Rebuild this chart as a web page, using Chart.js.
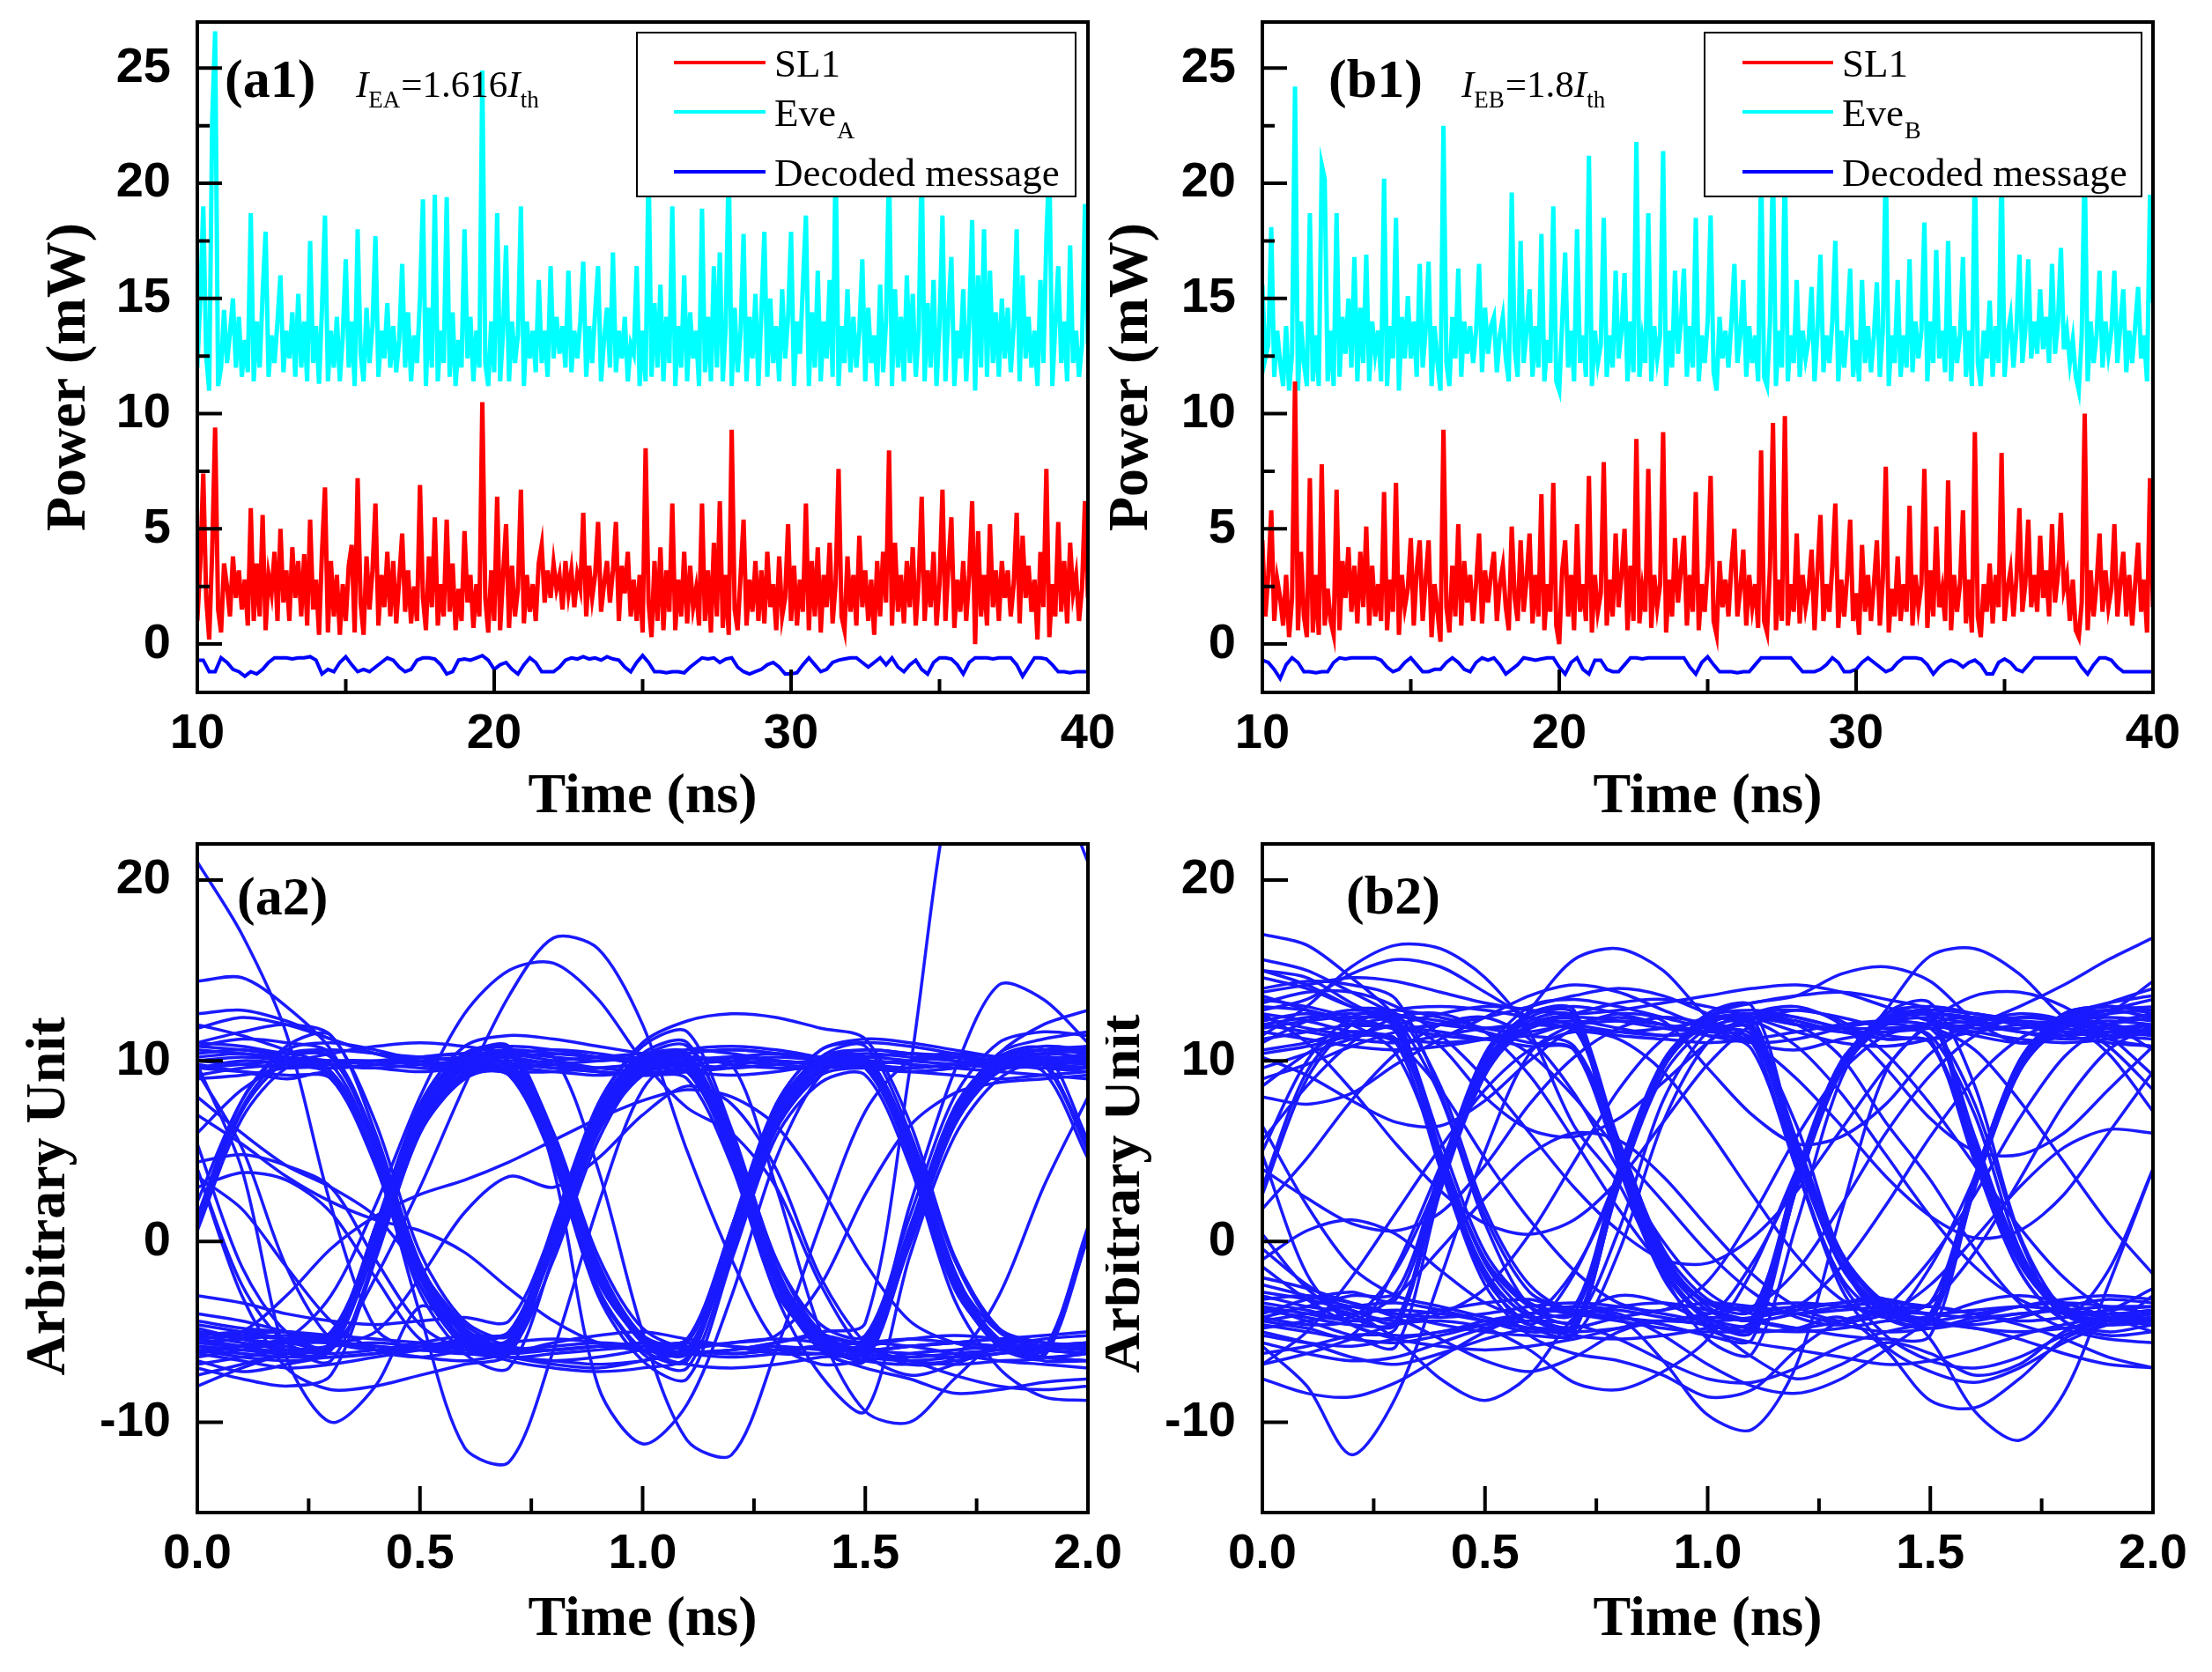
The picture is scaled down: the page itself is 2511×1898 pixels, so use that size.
<!DOCTYPE html>
<html>
<head>
<meta charset="utf-8">
<title>SL1 / Eve / decoded message</title>
<script src="https://cdn.jsdelivr.net/npm/chart.js@4.4.1/dist/chart.umd.min.js"></script>
<style>
  html, body { margin: 0; padding: 0; background: #fff; }
  body { position: relative; width: 2511px; height: 1898px; overflow: hidden; }
  canvas { position: absolute; }
</style>
</head>
<body>
<canvas id="a1" width="1290" height="940" style="left:0;top:0"></canvas>
<canvas id="b1" width="1256" height="940" style="left:1255px;top:0"></canvas>
<canvas id="a2" width="1290" height="958" style="left:0;top:940px"></canvas>
<canvas id="b2" width="1256" height="958" style="left:1255px;top:940px"></canvas>
<script>
// ---- time series, sampled every 0.1 ns from 10 ns (power in mW) ----
var sampleStart = 10, sampleStep = 0.1;
var msgStep = 0.2;

var a1Sl1 = [
  1.0,3.5,7.4,2.0,0.2,4.0,9.4,1.5,0.5,3.5,
  2.5,1.2,3.8,2.0,3.2,1.5,2.8,0.8,5.9,1.0,
  3.5,1.2,5.6,0.6,3.0,2.2,4.0,1.0,5.0,1.8,
  3.2,1.0,4.2,2.0,3.6,1.2,3.9,0.8,5.4,1.5,
  2.8,0.4,4.0,6.8,0.5,3.6,1.2,3.0,0.4,2.6,
  1.0,3.4,4.3,0.5,7.2,1.8,0.4,3.8,1.5,3.2,
  6.1,0.8,3.0,1.6,4.0,1.2,3.6,0.9,2.8,4.8,
  1.4,3.2,0.9,2.5,1.0,6.9,2.0,0.6,3.8,1.6,
  5.5,0.8,2.6,1.2,5.4,1.4,3.5,0.6,2.4,1.0,
  4.9,1.8,3.0,0.7,2.6,1.2,10.5,2.0,0.5,3.2,
  1.0,6.4,0.6,3.0,5.2,0.7,3.4,1.2,2.4,6.7,
  0.9,3.0,1.4,2.6,1.0,3.5,4.3,1.8,3.2,2.0,
  3.5,2.4,3.0,1.5,3.6,2.2,3.2,1.6,3.0,2.4,
  5.7,1.2,3.4,2.0,3.0,5.3,1.4,2.6,3.6,1.8,
  3.2,5.3,1.0,3.4,2.2,4.0,1.2,2.8,1.0,3.0,
  0.5,8.5,1.8,0.3,3.6,1.0,4.2,0.6,3.2,1.4,
  6.1,0.6,2.8,1.2,4.0,0.9,3.4,1.6,2.4,0.8,
  6.1,1.0,3.2,0.5,4.4,1.2,6.2,0.7,3.0,0.4,
  9.3,1.5,0.6,3.0,5.4,0.8,2.8,1.4,3.6,1.0,
  3.2,0.9,4.0,1.6,2.6,0.6,3.8,1.2,2.0,5.2,
  1.0,3.4,0.8,2.8,1.4,6.1,0.6,3.6,1.2,4.2,
  0.5,3.0,1.6,4.4,0.9,2.6,7.6,1.2,0.6,3.8,
  1.4,3.0,0.8,4.7,1.6,3.2,1.0,2.8,0.4,3.6,
  1.2,4.0,1.8,8.4,0.8,4.4,1.4,3.0,0.9,3.6,
  1.6,4.2,0.8,2.8,6.4,1.0,3.2,1.6,4.0,0.8,
  2.6,6.7,1.0,3.4,5.5,0.7,2.8,1.4,3.6,1.0,
  3.0,6.2,0.0,4.9,1.2,3.0,0.8,5.2,1.6,3.2,
  1.0,3.6,2.0,3.2,1.2,2.6,5.7,0.9,4.7,2.0,
  3.4,1.4,2.8,0.2,4.0,1.6,7.6,0.3,2.6,1.2,
  5.3,1.4,3.6,0.9,4.4,2.2,3.0,1.0,2.4,6.2,
  2.0
];

var a1Eve = [
  12.0,15.0,19.0,12.5,11.0,22.7,26.6,11.2,12.0,14.5,
  12.2,13.5,15.0,12.0,14.2,11.6,13.2,11.8,18.7,11.4,
  14.0,12.0,15.2,17.9,11.6,13.4,12.2,14.0,16.0,11.8,
  13.6,12.4,14.4,11.6,15.2,12.0,14.0,11.4,17.5,12.2,
  13.8,11.3,14.6,18.6,11.4,13.6,12.0,14.2,11.4,13.4,
  16.7,12.0,14.0,11.2,18.0,12.6,11.4,14.6,12.2,13.8,
  17.7,11.6,13.6,12.4,14.8,12.0,13.8,11.8,13.2,16.5,
  12.0,14.4,11.4,13.4,12.2,15.0,19.3,11.2,14.6,12.0,
  19.5,11.4,13.6,12.2,19.4,11.6,14.4,11.2,13.2,12.0,
  18.0,12.4,14.2,11.4,13.6,12.0,24.9,12.2,11.2,14.0,
  11.8,18.7,11.4,13.6,17.3,11.4,14.0,12.2,13.4,19.0,
  11.2,14.0,12.4,13.6,11.8,15.8,12.2,13.6,11.6,16.4,
  12.4,14.2,12.6,13.8,12.0,16.2,11.8,13.6,12.4,14.0,
  16.6,11.6,13.8,12.2,14.4,16.4,11.4,13.2,14.6,12.0,
  17.0,11.8,13.6,12.4,14.2,11.4,13.0,12.6,16.4,11.2,
  13.6,11.4,21.0,11.6,14.8,12.0,15.6,11.4,14.2,12.2,
  19.0,11.2,13.8,12.0,16.0,11.4,14.4,12.4,13.6,11.2,
  18.9,11.8,14.2,11.4,16.4,12.0,17.0,11.4,13.8,21.0,
  11.2,14.6,11.8,13.6,17.8,11.4,14.2,12.4,15.2,11.2,
  14.4,17.9,11.6,15.0,12.2,13.8,11.4,15.4,12.4,14.2,
  17.9,11.2,14.0,12.6,15.6,18.6,11.2,14.4,12.0,16.2,
  11.4,14.0,12.4,15.8,11.6,21.0,11.2,13.8,12.2,15.4,
  11.8,14.2,12.0,13.6,16.7,11.4,14.6,12.2,13.4,11.2,
  15.6,11.8,14.0,21.0,11.2,15.4,12.0,14.2,11.4,16.0,
  12.2,15.2,11.6,13.6,21.0,11.4,14.8,12.0,15.8,11.2,
  13.8,18.6,11.4,14.4,16.8,11.2,13.6,12.4,15.4,11.4,
  14.0,18.4,11.0,16.0,12.0,18.0,11.6,16.2,12.2,14.4,
  11.6,15.0,12.4,14.6,11.8,13.8,18.0,11.4,16.0,12.4,
  14.2,12.0,13.6,11.2,15.8,12.2,17.6,21.0,11.2,13.8,
  16.4,12.2,14.0,11.4,17.3,12.2,13.6,11.6,13.0,19.1,
  13.0
];

// decoded message, every 0.2 ns
var a1Msg = [
  -0.7,-0.7,-1.2,-1.2,-0.6,
  -0.8,-1.1,-1.2,-1.4,-1.2,
  -1.3,-1.1,-0.8,-0.6,-0.6,
  -0.6,-0.65,-0.6,-0.6,-0.55,
  -0.7,-1.3,-1.1,-1.2,-0.8,
  -0.55,-0.9,-1.2,-1.1,-1.2,
  -1.0,-0.8,-0.6,-0.7,-1.0,
  -1.2,-1.1,-0.7,-0.6,-0.6,
  -0.65,-0.9,-1.3,-1.2,-0.7,
  -0.65,-0.7,-0.6,-0.5,-0.7,
  -1.1,-0.9,-0.8,-1.1,-1.3,
  -0.9,-0.6,-0.8,-1.2,-1.2,
  -1.2,-1.0,-0.7,-0.6,-0.65,
  -0.55,-0.65,-0.6,-0.7,-0.55,
  -0.65,-0.7,-1.0,-1.2,-0.8,
  -0.5,-0.8,-1.2,-1.2,-1.25,
  -1.2,-1.2,-1.25,-1.0,-0.8,
  -0.6,-0.65,-0.6,-0.8,-0.65,
  -0.6,-1.0,-1.2,-1.3,-1.2,
  -1.1,-0.9,-0.8,-1.0,-1.3,
  -1.3,-1.25,-0.9,-0.6,-0.9,
  -1.2,-1.1,-0.8,-0.7,-0.65,
  -0.6,-0.6,-0.8,-1.0,-0.8,
  -0.6,-0.9,-0.6,-1.0,-1.2,
  -0.9,-0.7,-1.1,-1.3,-0.8,
  -0.6,-0.6,-0.65,-0.9,-1.3,
  -0.8,-0.6,-0.6,-0.6,-0.65,
  -0.6,-0.6,-0.6,-0.9,-1.4,
  -1.0,-0.6,-0.6,-0.65,-0.9,
  -1.2,-1.2,-1.25,-1.2,-1.2,
  -1.2
];

var b1Sl1 = [
  4.5,1.2,3.0,5.8,1.0,2.8,2.0,0.8,3.0,0.3,
  2.0,11.4,0.6,4.0,1.2,0.3,7.2,0.5,3.0,0.4,
  7.8,0.8,2.4,1.0,0.4,6.7,0.6,3.6,2.0,4.2,
  1.4,3.4,0.9,4.0,1.6,5.1,0.8,3.4,1.2,2.6,
  1.0,6.6,0.6,2.8,1.4,7.0,0.4,3.0,1.6,2.4,
  4.6,0.8,3.2,4.5,1.0,2.8,4.5,0.3,2.6,1.4,
  0.1,9.3,1.6,0.5,3.4,1.2,5.2,0.8,3.6,1.8,
  3.0,1.0,2.6,4.8,0.9,3.2,1.8,3.0,4.0,1.0,
  2.6,3.4,1.6,0.6,5.1,2.0,1.0,4.5,1.4,2.8,
  4.8,0.9,3.0,1.2,6.5,0.6,2.6,1.4,7.0,0.8,
  0.0,3.2,4.5,1.2,3.0,0.6,5.2,1.4,2.6,1.0,
  7.3,0.5,3.0,1.4,2.2,7.9,0.8,2.8,1.2,4.8,
  1.6,3.0,5.0,0.6,3.4,1.0,8.9,0.9,2.4,1.4,
  7.6,0.7,3.0,1.6,2.6,9.2,0.5,2.8,1.2,4.6,
  1.8,3.2,4.7,0.8,3.0,1.4,6.6,0.6,2.6,1.4,
  3.4,7.3,1.0,0.4,3.6,1.6,2.8,1.2,3.4,5.0,
  1.2,2.4,4.1,0.8,3.0,1.6,2.6,0.7,8.4,1.0,
  0.5,3.4,9.6,0.6,2.8,1.0,9.9,0.8,2.6,1.4,
  4.8,0.9,3.0,1.6,2.4,4.1,0.6,3.2,5.6,1.0,
  2.6,1.4,3.4,6.1,0.7,2.8,1.2,3.0,5.4,1.0,
  2.2,0.4,4.3,1.4,3.0,1.0,2.6,4.5,0.8,2.8,
  7.7,0.5,2.4,1.2,3.8,1.0,2.6,1.4,6.0,0.8,
  3.0,1.6,2.6,7.6,0.7,3.2,1.2,5.1,1.6,2.4,
  1.0,7.1,0.6,3.0,1.4,2.6,5.8,0.9,2.8,0.5,
  9.2,1.2,0.3,2.6,1.4,3.5,0.9,3.0,1.6,8.3,
  1.0,2.4,3.2,1.2,2.8,5.9,1.4,2.6,5.4,1.6,
  3.0,1.4,4.7,2.0,3.2,1.2,5.2,1.8,3.0,5.7,
  2.4,3.0,1.0,2.8,0.6,0.3,1.8,10.0,0.6,3.2,
  1.2,2.6,4.8,1.4,3.2,1.6,2.4,5.2,1.2,2.6,
  4.0,1.2,3.0,0.8,2.6,4.4,1.4,2.8,0.5,7.2,
  1.6
];

var b1Eve = [
  15.6,12.4,13.0,18.1,11.6,13.6,12.2,11.2,13.8,11.0,
  12.6,24.2,11.0,14.0,12.2,11.2,18.7,11.4,13.4,11.2,
  20.8,20.2,11.4,13.6,11.2,18.7,11.6,14.2,12.6,15.0,
  12.0,16.8,11.4,14.6,12.2,16.9,11.4,14.0,12.6,13.6,
  11.4,20.2,11.2,13.8,12.4,18.5,11.0,14.2,12.4,15.1,
  12.4,14.0,11.6,16.5,12.0,13.6,16.6,11.2,13.8,12.2,
  11.0,22.5,12.2,11.2,14.2,12.4,16.3,11.6,14.0,12.6,
  13.8,12.2,13.6,16.5,11.8,14.6,12.6,13.8,14.2,11.8,
  13.4,14.2,12.4,11.4,19.6,12.8,11.6,17.5,12.2,13.6,
  15.4,11.6,13.8,12.0,17.8,11.4,13.2,12.2,19.0,11.4,
  11.0,14.0,17.0,12.0,13.6,11.4,18.0,12.2,13.4,11.6,
  21.2,11.2,13.6,12.2,13.0,18.5,11.6,13.4,12.0,16.2,
  12.4,13.6,16.1,11.4,14.0,11.8,21.8,11.6,13.2,12.2,
  18.7,11.4,13.8,12.4,13.4,21.4,11.2,13.6,12.0,16.2,
  12.6,14.0,16.3,11.6,13.8,12.0,18.5,11.4,13.4,12.2,
  14.0,18.6,11.8,11.0,14.2,12.4,13.6,12.0,14.0,16.5,
  12.2,13.4,15.8,11.6,13.8,12.2,13.4,11.4,21.0,11.6,
  11.2,14.0,21.0,11.2,13.6,12.0,21.0,11.4,13.4,12.2,
  15.8,11.6,13.6,12.4,13.2,15.5,11.4,13.6,16.9,11.8,
  13.4,12.2,14.0,17.5,11.4,13.6,12.0,13.8,16.3,11.6,
  13.2,11.4,15.8,12.2,13.8,11.8,13.4,15.7,11.6,13.6,
  21.0,11.2,13.4,12.2,15.8,11.6,13.4,12.0,16.7,11.8,
  14.0,12.4,13.6,18.3,11.4,14.0,12.2,17.1,12.4,13.6,
  11.8,17.5,11.4,13.8,12.2,13.4,16.8,11.6,13.6,11.2,
  21.0,12.2,11.2,13.6,12.4,14.9,11.6,13.8,12.2,21.0,
  11.6,13.4,14.2,12.0,13.6,16.9,12.2,13.6,16.7,12.4,
  14.0,12.6,15.4,12.8,14.2,12.2,16.5,12.6,14.0,17.2,
  12.8,13.6,12.2,13.2,11.6,11.0,13.4,21.0,11.4,14.0,
  12.2,13.4,16.2,12.0,14.0,12.6,13.6,16.2,12.2,13.8,
  15.4,11.8,13.6,12.2,13.8,15.5,12.4,13.4,11.4,19.5,
  14.8
];

var b1Msg = [
  -0.7,-0.8,-1.1,-1.5,-0.9,
  -0.6,-0.8,-1.2,-1.2,-1.25,
  -1.2,-1.2,-0.8,-0.6,-0.65,
  -0.6,-0.6,-0.6,-0.6,-0.6,
  -0.7,-1.0,-1.2,-1.1,-0.8,
  -0.6,-0.9,-1.2,-1.2,-1.1,
  -1.1,-0.8,-0.6,-0.8,-1.1,
  -1.2,-0.8,-0.6,-0.7,-0.6,
  -0.9,-1.3,-1.1,-0.9,-0.6,
  -0.65,-0.7,-0.65,-0.6,-0.6,
  -1.0,-1.3,-0.8,-0.6,-1.1,
  -1.3,-0.7,-0.7,-1.1,-1.2,
  -1.2,-0.9,-0.6,-0.6,-0.65,
  -0.6,-0.6,-0.6,-0.6,-0.6,
  -0.6,-0.6,-1.0,-1.3,-0.8,
  -0.55,-0.9,-1.2,-1.2,-1.2,
  -1.25,-1.2,-1.2,-0.9,-0.6,
  -0.6,-0.6,-0.6,-0.6,-0.6,
  -0.9,-1.2,-1.2,-1.2,-1.1,
  -0.9,-0.6,-0.8,-1.2,-1.2,
  -1.1,-0.8,-0.6,-0.8,-1.0,
  -1.2,-1.1,-0.8,-0.6,-0.6,
  -0.6,-0.65,-0.9,-1.3,-1.0,
  -0.8,-0.7,-0.8,-1.0,-0.8,
  -0.7,-0.9,-1.3,-1.3,-0.8,
  -0.65,-0.8,-1.1,-1.2,-0.9,
  -0.6,-0.6,-0.6,-0.6,-0.6,
  -0.6,-0.6,-0.6,-1.0,-1.3,
  -0.9,-0.6,-0.6,-0.7,-1.0,
  -1.2,-1.2,-1.2,-1.2,-1.2,
  -1.2
];

// ---- eye diagrams: one trace per row, sampled every 0.1 ns over 0..2 ns ----
var eyeStep = 0.1;

var a2Traces = [
  [1.2,7.4,10.3,10.6,10.4,10.2,10.0,9.8,5.2,-2.0,-5.2,-6.0,-6.2,-6.0,-5.8,-5.6,0.4,6.8,9.6,10.0,5.0],
  [10.0,9.8,9.6,9.4,4.6,-2.4,-5.4,-6.2,0.2,6.6,9.8,10.6,10.8,10.6,10.2,9.8,5.4,-1.8,-5.0,-5.6,-5.8],
  [-5.0,-5.4,-5.8,-6.0,0.0,7.2,10.0,10.4,5.6,-1.6,-5.6,-6.6,0.8,7.6,10.6,11.0,10.8,10.4,10.0,9.8,9.6],
  [4.0,-3.0,-7.0,-8.2,-8.0,-7.4,-6.8,-6.2,0.6,7.0,9.6,9.8,4.4,-3.0,-7.4,-9.4,-0.8,5.8,9.0,9.8,5.4],
  [-5.2,-5.0,-5.0,-5.2,-5.4,-5.6,-5.8,-5.8,0.4,7.0,10.2,10.6,10.4,10.0,9.8,9.8,9.6,9.8,10.0,10.0,10.2],
  [9.2,9.6,9.8,10.0,10.0,9.8,9.6,9.6,4.8,-2.2,-5.4,-6.0,0.0,6.4,9.4,9.8,4.6,-2.6,-5.6,-6.4,0.2],
  [1.4,7.8,10.8,11.4,6.0,-1.2,-4.8,-5.6,1.0,7.6,10.8,11.6,6.2,-1.0,-4.6,-5.2,1.4,8.0,11.0,11.6,11.4],
  [-6.0,-6.2,-6.4,-6.0,-2.0,3.0,8.6,13.6,16.8,16.2,12.0,5.0,-1.0,-5.6,-6.8,-6.6,-6.2,-6.0,-5.8,-5.8,-6.0],
  [-5.6,-5.8,-5.4,-3.0,2.0,8.0,12.6,15.0,15.4,13.4,10.0,7.4,6.0,3.0,-2.4,-6.2,-7.4,-6.8,-5.8,-5.4,-5.2],
  [21.0,17.0,11.5,2.0,-4.8,-6.0,-5.6,-5.0,0.0,6.6,9.6,10.2,10.0,9.8,9.6,9.8,5.0,-2.0,-5.4,-6.0,-6.2],
  [-5.0,-5.4,-5.6,-5.2,0.6,7.0,9.8,10.0,5.2,-1.8,-5.6,-6.2,-6.0,-5.6,-5.0,-4.5,9.5,26.0,30.0,27.0,21.0],
  [9.6,10.0,9.8,9.2,4.4,-4.0,-11.4,-12.2,-6.0,2.0,8.4,10.2,5.4,-1.8,-5.4,-6.0,0.0,6.4,9.6,10.0,5.0],
  [-5.6,-5.8,-5.4,-5.0,0.4,6.8,9.8,10.4,10.2,4.0,-5.0,-11.0,-11.8,-6.0,1.0,7.2,10.0,10.4,10.2,10.0,9.8],
  [4.0,-2.4,-5.6,-6.0,0.8,7.4,10.4,10.6,4.0,-8.0,-11.2,-9.0,-3.0,4.6,9.2,10.2,5.6,-1.6,-5.8,-6.6,-6.6],
  [9.8,4.0,-6.4,-10.0,-8.0,-3.6,-5.0,-6.0,-6.0,-5.8,-5.6,-5.4,0.6,7.2,10.0,10.6,10.4,10.2,9.8,9.6,9.6],
  [-6.0,-5.8,-5.6,-5.6,-5.8,-6.0,-5.8,-5.6,-0.4,6.2,9.4,10.0,9.8,3.0,-5.0,-9.4,-10.0,-7.6,-5.6,-5.8,-6.0],
  [14.4,14.6,13.0,10.6,5.6,-1.6,-5.2,-6.0,-1.0,5.6,9.4,9.8,10.0,10.2,10.0,9.6,9.6,9.8,10.2,10.4,10.6],
  [12.6,12.8,12.2,11.2,10.4,10.0,9.8,9.8,5.8,-1.4,-5.4,-6.0,-6.2,-6.0,-5.8,-5.6,0.8,7.4,10.4,12.0,12.8],
  [3.0,3.8,3.4,1.6,-2.0,-5.4,-6.2,-6.0,-5.8,-5.6,-5.8,-6.2,-6.4,-6.2,-5.8,-5.6,-5.8,-6.2,-6.6,-6.8,-7.0],
  [-7.0,-7.6,-8.0,-7.4,-1.0,6.0,9.0,9.6,9.4,9.2,9.4,9.6,4.8,-2.4,-6.0,-7.0,-7.6,-8.4,-8.2,-7.8,-7.6],
  [10.4,10.6,10.2,9.8,9.6,9.4,9.6,9.8,10.0,10.2,10.4,10.4,5.4,-2.0,-5.2,-6.0,2.0,9.4,14.2,13.4,11.0],
  [-5.4,-5.2,-5.0,-5.4,-6.0,-6.4,-6.6,-6.2,-5.6,-5.2,-5.0,-5.4,-5.8,-6.2,-6.2,-5.8,-5.4,-5.2,-5.4,-5.8,-6.0],
  [1.0,7.2,10.0,10.4,5.6,-1.4,-5.0,-5.8,0.2,6.8,9.8,10.4,10.6,10.4,10.0,9.8,5.0,-2.2,-5.6,-6.0,0.4],
  [9.8,9.4,9.0,9.2,4.6,-2.4,-5.8,-6.4,-6.6,-6.4,-6.0,-5.6,0.4,7.0,10.2,10.8,6.0,-1.0,-5.0,-5.8,-6.0],
  [-4.0,-4.4,-5.0,-5.6,-5.0,-2.0,1.6,3.6,3.0,4.6,7.0,8.6,7.6,4.0,-2.0,-5.6,-6.8,-6.4,-3.0,3.0,8.0],
  [11.0,11.6,12.0,11.4,6.6,-0.6,-4.4,-5.2,0.6,7.6,11.0,12.2,12.6,12.4,11.8,11.2,6.6,-0.8,-4.8,-5.6,-5.8],
  [-6.6,-7.2,-6.8,-6.0,-0.2,6.4,9.2,9.4,4.6,-2.6,-6.2,-7.0,-0.6,6.2,9.2,9.6,9.4,9.2,9.0,9.2,9.4],
  [-8.0,-7.0,-6.2,-5.8,-5.6,-5.8,-6.0,-6.4,-6.8,-7.0,-6.6,-6.0,-5.6,-5.4,-5.6,-6.0,-6.6,-7.4,-8.0,-8.2,-8.0],
  [10.0,10.2,10.0,9.6,9.8,10.2,10.4,10.2,9.8,9.4,9.2,9.4,9.8,10.0,9.8,9.6,9.4,9.6,10.0,10.2,10.0],
  [-4.6,-5.0,-5.4,-5.8,0.8,7.0,9.6,9.8,9.6,9.4,9.2,9.0,4.2,-2.8,-5.6,-6.0,-5.8,-5.6,-5.8,-6.0,0.6],
  [-5.8,-6.0,-6.2,-5.6,0.2,6.6,9.6,10.0,9.8,9.6,9.8,10.0,5.0,-2.2,-5.6,-6.2,0.4,7.0,10.0,10.4,10.2],
  [10.2,10.4,10.0,9.4,5.2,-1.6,-5.6,-6.4,-6.2,-6.0,-5.8,-5.6,-5.8,-6.0,-6.2,-6.0,0.6,7.2,10.2,10.6,5.6],
  [0.6,6.8,9.6,10.0,9.8,9.6,9.4,9.2,4.4,-2.8,-6.0,-6.6,0.2,6.8,9.8,10.2,10.0,9.8,9.6,9.4,4.6],
  [5.4,-1.4,-5.0,-5.8,0.4,7.2,10.2,10.8,5.8,-1.2,-5.2,-6.0,-6.2,-6.0,-5.8,-5.6,-5.4,-5.6,-5.8,-6.0,0.8],
  [-6.2,-6.6,-7.0,-6.8,-6.4,-6.0,-5.6,-5.4,0.8,7.4,10.4,11.0,5.8,-1.4,-5.6,-6.4,0.4,6.8,9.8,10.4,10.6],
  [11.0,10.8,10.4,10.2,5.6,-1.2,-5.2,-6.2,0.0,6.6,9.6,10.0,10.2,10.4,10.2,9.8,5.2,-2.0,-5.6,-6.4,-6.6],
  [-4.4,-4.8,-5.0,-5.2,0.8,7.4,10.4,10.8,10.6,10.2,9.8,9.4,4.8,-2.0,-5.4,-6.0,-5.8,-5.6,-5.4,-5.2,-5.0],
  [9.0,9.2,9.6,9.8,10.0,10.2,10.4,10.6,6.0,-0.8,-4.8,-5.6,0.8,7.6,10.6,11.2,11.0,10.6,10.2,10.0,9.8],
  [-7.4,-6.8,-6.2,-5.8,-0.4,6.2,9.0,9.4,4.4,-3.0,-6.6,-7.6,-1.0,5.8,8.8,9.2,4.2,-3.2,-7.0,-8.6,-8.8],
  [6.0,8.4,9.8,10.4,10.8,11.0,10.8,10.4,10.0,9.6,9.4,9.4,9.6,9.8,10.0,10.2,5.6,-1.6,-5.6,-6.4,-6.2],
  [-5.0,-5.2,-5.4,-5.6,-5.8,-6.0,-6.2,-6.0,0.4,7.0,10.0,10.4,5.2,-1.8,-5.2,-6.0,-5.8,-5.6,-5.4,-5.6,-5.8],
  [8.0,6.0,4.2,3.0,1.4,-1.6,-4.6,-5.8,-6.0,-5.8,-5.6,-5.4,0.8,7.4,10.2,10.6,10.4,10.0,9.8,10.0,10.4],
  [-6.4,-6.0,-5.6,-5.2,0.6,7.0,10.0,10.6,10.4,10.2,10.0,9.8,9.6,9.8,10.0,10.2,10.4,10.2,10.0,9.8,9.6],
  [9.4,5.2,-1.4,-5.4,-6.0,-5.8,-5.4,-5.0,0.6,7.2,10.2,10.8,6.0,-1.0,-5.0,-5.8,0.6,7.2,10.4,11.2,11.6],
  [11.8,12.4,12.0,11.2,10.4,9.8,9.4,9.2,4.6,-2.6,-6.0,-6.8,-7.0,-6.8,-6.4,-6.0,0.2,6.6,9.6,10.0,9.8],
  [-5.6,-5.4,-5.2,-5.4,0.2,6.4,9.4,9.8,9.6,9.4,9.2,9.4,4.6,-2.4,-5.8,-6.4,-6.6,-6.4,-6.0,-5.8,-5.6],
  [2.2,7.8,10.6,11.0,10.6,10.0,9.6,9.4,9.4,9.6,9.8,10.0,10.2,10.0,9.8,9.6,4.8,-2.4,-5.8,-6.4,-6.6],
  [-5.2,-5.6,-6.0,-6.2,-6.0,-5.6,-5.2,-5.0,-0.2,6.6,9.8,10.2,9.8,9.6,9.6,9.8,10.0,10.2,10.0,9.8,5.2],
  [9.6,9.4,9.2,9.0,4.2,-2.8,-6.2,-7.0,-0.8,6.0,9.2,9.8,5.0,-2.2,-5.8,-6.6,-6.8,-6.6,-6.2,-5.8,-5.6],
  [-3.0,-3.4,-4.0,-4.4,-4.6,-4.4,-4.2,-4.4,0.8,7.2,10.0,10.4,10.6,10.4,10.0,9.6,9.4,9.6,10.0,10.4,10.8],
  [10.8,11.2,11.0,10.4,5.4,-1.8,-5.6,-6.6,-7.0,-7.2,-7.0,-6.4,-0.2,6.6,9.6,10.0,5.2,-1.8,-5.4,-6.0,-6.2],
  [-5.8,-6.0,-6.0,-5.8,0.8,7.6,10.8,11.4,11.2,10.8,10.4,10.0,5.2,-1.6,-5.0,-5.4,0.6,7.2,10.2,10.6,10.4],
  [4.4,4.8,4.2,3.0,-1.0,-4.6,-6.0,-6.2,-6.0,-5.8,-6.0,-6.2,-0.4,6.4,9.6,10.0,9.8,9.6,9.4,9.2,9.0],
  [-6.0,-6.4,-6.6,-6.4,-6.2,-6.0,-6.2,-6.4,-6.6,-6.8,-6.6,-6.2,-6.0,-5.8,-6.0,-6.2,-0.2,6.4,9.4,9.8,9.6],
  [10.6,10.4,10.2,10.0,9.8,10.0,10.2,10.4,10.6,10.4,10.0,9.6,4.8,-2.2,-5.6,-6.2,-6.4,-6.2,-6.0,-6.0,-6.2],
  [-5.4,-5.0,-3.0,-0.4,1.4,2.6,3.4,4.4,5.6,6.8,7.8,8.4,8.0,6.4,3.0,-1.2,-4.4,-5.6,-6.0,-5.8,-5.6],
  [7.0,5.4,3.6,2.2,1.2,0.6,-0.6,-2.6,-4.4,-5.6,-6.0,-5.8,-5.6,-5.2,-2.4,2.6,6.4,8.2,8.8,9.0,9.2],
  [-6.2,-5.8,-5.6,-5.8,0.4,7.0,10.0,10.4,10.2,10.0,10.2,10.4,5.2,-1.8,-5.4,-6.0,-6.2,-6.4,-6.2,-6.0,-5.8],
  [9.6,9.8,10.0,9.8,5.0,-2.0,-5.6,-6.2,0.2,6.8,9.8,10.2,5.0,-2.2,-5.6,-6.2,0.2,6.8,9.8,10.2,10.0],
  [-5.4,-5.8,-6.2,-6.4,-6.2,-5.8,-5.6,-5.8,-0.2,6.4,9.6,10.0,10.2,10.0,9.8,9.6,4.8,-2.4,-5.8,-6.4,-6.2],
  [10.8,10.6,10.4,10.2,5.4,-1.6,-5.2,-5.8,-0.2,6.4,9.4,9.8,4.8,-2.4,-6.0,-6.6,0.0,6.8,10.0,10.6,10.8],
  [-6.8,-6.4,-6.0,-5.6,0.6,7.2,10.2,10.6,5.4,-1.8,-5.4,-6.0,0.4,7.0,10.0,10.4,10.2,10.0,9.8,9.8,10.0],
  [3.6,1.8,-1.4,-4.4,-6.0,-6.4,-6.0,-5.6,-5.4,-5.6,-6.0,-6.2,-6.0,-5.6,-5.2,-5.4,0.4,7.0,10.2,10.8,10.6],
  [12.0,11.4,10.6,9.8,9.6,9.8,10.0,10.2,10.4,10.2,9.8,9.4,9.2,9.4,9.8,10.2,10.4,10.2,9.8,9.6,9.4],
  [-4.8,-5.4,-6.0,-6.6,-0.8,6.0,9.2,9.6,9.8,10.0,10.2,10.4,5.6,-1.6,-5.4,-6.2,-6.6,-6.8,-6.6,-6.2,0.2]
];

var b2Traces = [
  [17.0,16.4,14.6,12.4,8.0,1.0,-3.6,-4.4,0.6,7.8,11.6,12.6,12.8,12.4,11.8,11.4,7.0,-0.4,-4.0,-4.6,-3.0],
  [-5.8,-8.0,-11.8,-8.6,-2.0,5.0,10.4,12.0,12.4,12.0,11.4,11.0,6.4,-0.8,-4.2,-4.8,-4.4,-4.0,-3.8,-4.2,-4.6],
  [11.4,13.0,15.2,16.4,16.2,14.6,11.6,6.4,3.2,-1.8,-5.4,-6.2,1.0,9.0,12.6,13.2,8.6,0.4,-3.8,-4.6,-4.4],
  [-3.4,-3.8,-4.2,-1.6,3.6,9.6,12.8,15.6,16.2,15.0,12.4,11.0,10.6,11.2,11.6,11.8,7.6,0.2,-4.4,-5.2,-5.0],
  [4.8,-1.8,-4.6,-5.2,-5.0,-4.4,-4.0,-3.8,-4.2,-6.6,-9.6,-10.4,-6.8,1.6,9.4,12.0,12.4,12.0,11.6,11.8,12.0],
  [-2.4,-3.0,-3.6,-4.0,-4.2,-4.0,-3.6,-3.4,-3.6,-4.0,-4.4,-4.2,-3.8,-3.4,-3.2,-5.4,-9.4,-11.0,-8.4,-2.4,4.0],
  [12.0,11.6,11.2,11.0,11.4,11.8,12.0,11.8,11.4,11.2,11.0,11.2,11.6,12.0,12.2,12.0,11.6,11.2,11.0,11.2,11.6],
  [3.0,9.4,12.0,12.4,4.4,-1.6,-4.0,-1.6,3.4,9.6,12.0,11.0,4.0,-2.0,-4.2,-4.4,3.0,9.6,11.8,12.2,12.0],
  [15.0,14.6,13.2,12.0,11.6,11.2,10.8,10.6,5.0,-1.2,-3.8,-4.4,-4.0,-3.6,-3.4,-3.6,-4.0,-4.4,-4.2,-3.8,-3.6],
  [-4.4,-4.8,-5.2,-1.4,4.2,10.0,12.2,12.4,4.6,-1.4,-4.0,-1.2,3.6,9.8,12.4,12.8,12.6,12.2,11.6,11.4,11.6],
  [10.6,11.0,11.6,11.0,4.0,-2.4,-5.2,-6.2,-6.6,-7.4,-8.6,-8.2,-6.0,-4.4,-4.0,-4.2,3.2,9.8,12.0,12.6,12.8],
  [-6.8,-6.2,-5.4,-4.6,-4.4,-4.8,-6.0,-7.8,-8.2,-7.2,-5.4,-1.6,4.0,9.4,12.8,15.8,16.2,14.8,12.4,11.2,10.8],
  [13.0,12.8,12.2,11.8,12.0,12.4,13.0,13.6,14.0,13.6,12.6,11.6,5.0,-1.2,-4.2,-1.4,3.6,9.8,12.4,13.2,13.6],
  [-3.0,-3.6,-4.0,-5.4,-7.6,-8.8,-7.4,-4.2,-3.0,-3.4,-4.6,-6.4,-7.6,-6.8,-5.6,-6.2,-7.4,-6.8,-5.0,-4.2,-4.0],
  [5.0,10.0,12.4,12.8,12.4,11.8,11.4,10.8,5.6,-0.6,-3.6,-4.2,3.8,10.0,12.0,11.2,4.4,-1.6,-4.2,-1.6,4.0],
  [-4.0,-3.2,-2.8,-3.2,3.6,9.8,12.6,13.0,12.6,12.0,11.4,11.0,11.2,11.8,12.2,12.0,11.4,11.0,11.4,12.0,12.4],
  [12.2,12.6,12.0,10.4,4.6,-1.8,-4.6,-1.8,3.8,9.8,12.0,12.4,4.6,-1.2,-3.8,-4.4,-4.6,-4.2,-3.6,-3.2,-3.4],
  [-1.0,0.6,1.2,0.4,-1.6,-3.4,-4.2,-4.0,-3.6,-3.4,-3.8,-4.4,-4.8,-4.4,-3.8,-3.6,-4.0,-4.6,-5.4,-6.4,-7.0],
  [14.6,14.0,13.0,12.6,8.6,1.8,-2.4,-3.6,3.2,9.6,12.4,13.2,13.6,14.8,15.2,14.4,12.2,11.0,11.4,12.6,14.4],
  [-5.0,-5.6,-6.4,-6.8,-6.2,-5.4,-4.8,-4.6,3.0,9.2,11.8,12.0,4.2,-2.2,-5.2,-6.6,-7.0,-6.4,-5.2,-4.4,-4.2],
  [8.0,7.6,8.2,9.8,11.2,12.4,13.6,14.2,13.8,12.8,11.8,10.6,4.0,-2.6,-5.8,-7.2,-7.8,-7.0,-5.6,-4.6,-4.2],
  [-3.6,-4.0,-4.4,-4.2,-3.8,-3.4,-3.2,-3.6,4.0,10.0,12.4,12.8,12.4,11.8,11.4,11.2,11.6,12.0,12.2,12.0,11.6],
  [12.4,11.8,11.4,11.2,5.0,-1.0,-3.4,-4.0,-4.2,-4.6,-5.2,-5.4,3.0,9.6,12.2,12.6,5.2,-1.0,-3.6,-4.0,-3.8],
  [-2.0,-2.6,-3.4,-4.2,-5.4,-6.6,-7.2,-6.4,-5.0,-4.4,-4.6,-5.0,-4.8,-4.2,-6.0,-8.8,-9.2,-7.6,-5.4,-4.6,-4.4],
  [10.2,9.2,7.8,6.6,6.4,7.8,10.0,11.8,12.6,12.2,9.6,7.0,5.4,5.8,7.6,10.4,12.0,12.6,12.2,10.4,7.2],
  [0.4,-2.6,-4.2,-4.6,3.2,9.4,11.8,12.2,11.8,11.4,11.6,11.8,5.6,-0.6,-3.6,-4.0,3.6,9.8,12.4,13.0,12.6],
  [12.8,13.4,14.8,15.6,15.2,13.8,12.4,11.8,11.6,11.8,12.2,12.6,12.4,11.8,11.2,11.0,5.4,-0.8,-3.8,-4.4,-4.2],
  [-4.4,-4.0,-3.6,-3.4,-3.8,-4.4,-5.0,-4.8,-4.2,-3.8,-3.4,-3.6,-4.0,-4.6,-5.0,-4.8,-4.2,-3.6,-3.2,-3.0,-3.2],
  [6.4,2.0,-1.4,-3.0,-3.6,-4.2,-4.8,-5.2,-0.6,6.6,11.0,12.4,12.0,10.2,6.6,3.4,-0.4,-3.4,-4.8,-5.4,-5.6],
  [15.6,15.0,13.8,12.6,12.0,11.8,12.0,12.6,13.2,13.4,13.0,12.4,11.6,11.0,10.8,11.2,12.0,13.0,14.2,15.6,16.8],
  [11.8,12.2,12.4,12.0,4.4,-1.8,-4.2,-4.8,3.2,9.6,12.2,12.6,12.2,11.6,11.2,11.0,4.6,-1.6,-4.4,-5.0,-4.6],
  [-3.8,-4.2,-4.6,-4.4,3.8,10.2,12.6,12.8,4.8,-1.0,-3.4,-3.8,-3.6,-3.4,-3.2,-3.4,3.2,9.6,12.2,12.8,13.0],
  [13.4,13.0,12.4,11.8,11.4,11.2,11.4,11.8,5.2,-0.8,-3.4,-3.8,3.6,9.8,12.4,12.8,12.6,12.2,11.8,11.6,11.4],
  [-5.2,-5.6,-5.8,-5.4,-5.0,-4.6,-4.4,-4.6,3.4,9.8,12.6,13.0,5.2,-0.8,-3.6,-4.0,-3.8,-3.6,-3.8,-4.2,-4.6],
  [9.6,10.4,11.2,11.8,4.2,-2.0,-4.6,-5.2,-5.4,-5.2,-4.8,-4.4,3.4,9.8,12.4,12.6,12.2,11.6,11.2,11.4,11.8],
  [-4.2,-3.6,-3.0,-2.8,4.0,10.4,13.0,13.4,13.0,12.4,11.8,11.4,4.6,-1.2,-3.8,-4.4,3.0,9.4,12.0,12.4,12.2],
  [12.6,12.2,11.6,11.2,11.0,11.2,11.6,12.0,12.2,12.0,11.6,11.2,5.0,-0.8,-3.6,-4.4,-4.8,-5.0,-4.8,-4.4,-4.0],
  [-6.2,-5.8,-5.2,-4.8,3.4,9.8,12.4,12.6,4.4,-1.6,-4.4,-5.0,3.0,9.4,12.0,12.4,4.6,-1.2,-4.0,-4.6,-4.2],
  [14.0,14.4,14.2,13.4,8.2,1.4,-2.8,-3.8,-4.2,-4.4,-4.0,-3.6,-3.4,-3.6,-4.0,-4.4,3.0,9.4,12.2,13.2,14.0],
  [-3.2,-3.0,-3.4,-4.0,-4.6,-5.0,-5.2,-5.0,3.2,9.6,12.2,12.4,12.0,11.6,11.6,11.8,12.0,12.2,12.0,11.8,11.6],
  [11.2,11.6,12.0,12.4,12.2,11.6,11.0,10.6,4.4,-1.6,-4.2,-4.8,-5.0,-4.8,-4.4,-4.0,3.6,10.0,12.6,13.0,12.8],
  [2.6,9.0,12.0,12.8,13.0,12.8,12.4,12.0,11.6,11.4,11.6,12.0,5.4,-0.6,-3.4,-4.0,-4.2,-4.0,-3.8,-3.6,-3.6],
  [-4.6,-5.0,-5.4,-5.6,-5.2,-4.6,-4.0,-3.6,-3.8,-4.2,-4.6,-4.8,3.0,9.4,12.0,12.4,12.0,11.6,11.4,11.6,12.0],
  [12.0,12.4,12.6,12.2,5.0,-1.2,-4.0,-4.6,3.4,9.8,12.6,13.2,13.6,13.8,13.4,12.6,5.8,-0.6,-3.6,-4.2,-4.0],
  [-2.8,-3.2,-3.8,-4.4,3.2,9.6,12.0,12.2,4.2,-2.0,-4.8,-5.6,-6.0,-6.4,-6.8,-6.6,-6.0,-5.2,-4.6,-4.2,-4.0],
  [10.4,10.8,11.4,12.0,12.6,13.0,12.8,12.2,4.8,-1.4,-4.2,-4.8,3.2,9.8,12.6,13.0,12.6,12.0,11.4,11.0,10.8],
  [-4.8,-4.4,-4.0,-3.8,-4.0,-4.4,-4.8,-5.0,-4.8,-4.4,-4.2,-4.4,-4.8,-5.2,-5.4,-5.2,3.0,9.6,12.4,12.8,12.4],
  [13.6,12.8,12.0,11.6,4.8,-1.0,-3.6,-4.0,3.6,9.8,12.2,12.4,12.0,11.8,11.8,12.0,12.2,12.4,12.2,11.8,11.4],
  [-1.4,-3.2,-4.6,-5.4,-5.8,-6.0,-5.8,-5.4,-4.8,-4.4,-4.6,-5.0,3.0,9.6,12.4,12.8,5.0,-1.0,-3.8,-4.4,-4.6],
  [11.6,11.2,10.8,10.6,10.8,11.2,11.8,12.4,5.6,-0.4,-3.2,-3.8,-4.0,-3.8,-3.6,-3.4,3.6,10.0,12.6,13.0,12.8],
  [-3.6,-4.4,-5.2,-5.8,2.8,9.2,12.0,12.4,12.2,11.8,11.6,11.8,4.8,-1.4,-4.0,-4.4,-4.0,-3.6,-3.4,-3.6,-4.0],
  [15.0,14.2,13.0,12.0,5.6,-0.6,-3.4,-4.0,-4.4,-4.8,-5.0,-4.6,3.2,9.6,12.2,12.6,12.4,12.0,11.6,11.4,11.2],
  [4.0,2.4,1.0,0.6,1.6,4.2,7.6,10.2,11.8,12.4,12.0,11.0,9.0,6.4,3.6,1.4,0.2,0.6,2.6,6.0,9.4],
  [9.0,9.8,10.8,11.6,12.0,11.6,10.4,8.0,5.0,2.2,-0.6,-2.8,-4.2,-4.6,-3.6,-1.0,2.6,6.8,10.2,12.0,12.6],
  [-5.6,-6.2,-6.6,-6.4,-5.6,-4.8,-4.4,-4.6,-5.4,-6.6,-7.6,-7.8,-7.0,-5.8,-5.0,-4.6,-4.8,-5.4,-6.2,-6.8,-7.0],
  [13.8,14.2,14.6,14.4,13.8,13.2,12.8,12.6,12.8,13.2,13.6,14.0,14.2,13.8,13.0,12.2,11.8,11.8,12.2,12.8,13.4],
  [8.6,10.4,11.6,11.0,8.4,4.6,1.2,-1.6,-3.4,-3.8,-2.2,1.4,5.8,9.4,11.4,11.8,10.6,7.8,4.4,1.0,-1.8],
  [-6.8,-5.0,-2.0,1.6,5.2,8.4,10.6,11.6,11.2,9.4,6.2,2.6,-0.8,-3.2,-4.2,-3.4,-0.6,3.4,7.6,10.6,12.0],
  [12.6,11.0,8.4,5.4,2.8,1.0,0.4,1.2,3.4,6.6,9.8,12.0,12.8,12.2,10.4,7.6,4.2,0.8,-2.0,-3.8,-4.4],
  [1.8,4.6,7.8,10.4,12.0,12.4,11.2,8.2,4.0,0.0,-2.8,-4.0,-3.6,-1.4,2.0,5.8,9.0,11.2,12.2,12.0,10.6],
  [-4.2,-4.6,-4.4,-3.0,-0.4,2.4,4.8,6.0,5.6,3.6,0.8,-1.8,-3.6,-4.4,-4.0,-2.4,0.2,3.0,5.2,6.2,6.0],
  [11.0,12.2,12.8,12.4,10.8,8.0,6.2,5.8,6.8,8.8,11.0,12.6,13.0,12.0,9.6,6.8,5.0,4.8,6.0,8.4,10.8],
  [-7.6,-8.4,-8.6,-7.8,-6.4,-5.0,-4.0,-3.6,-4.0,-5.2,-6.8,-8.0,-8.4,-7.6,-6.0,-4.4,-3.4,-3.0,-3.4,-4.2,-5.0],
  [5.6,8.6,11.0,12.4,12.6,11.6,9.2,5.6,1.8,-1.4,-3.4,-3.6,-1.6,2.0,6.0,9.2,11.4,12.4,12.2,10.8,8.4],
  [-0.4,-2.4,-3.8,-4.4,-4.0,-2.6,0.4,4.4,8.4,11.2,12.4,12.2,10.8,8.2,4.8,1.4,-1.4,-3.2,-4.0,-3.8,-2.6],
  [13.2,13.8,13.8,13.0,11.4,9.0,6.0,3.0,0.6,-1.0,-1.2,0.2,2.8,6.2,9.6,12.2,13.6,13.8,13.0,11.4,9.2]
];

// ---- axis ticks ----
var topXMinor = [15, 25, 35];
var topYMinor = [2.5, 7.5, 12.5, 17.5, 22.5];
var eyeXMinor = [0.25, 0.75, 1.25, 1.75];

var colSl1 = '#ff0000';
var colEve = '#00ffff';
var colMsg = '#0000ff';
var colEye = '#1a1aff';

var tickFont = { family: '"Liberation Sans", Arial, sans-serif', size: 56, weight: 'bold' };
var serif = '"Liberation Serif", "Times New Roman", serif';

function series(vals, t0, dt) {
    return vals.map(function(v, i) {
        return { x: Math.round((t0 + i * dt) * 1000) / 1000, y: v };
    });
}

function line(label, vals, t0, dt, color, width, tension) {
    return {
        label: label,
        data: series(vals, t0, dt),
        borderColor: color,
        backgroundColor: color,
        borderWidth: width,
        pointRadius: 0,
        tension: tension,
        clip: 0
    };
}

// draws frame, inward ticks, legend, panel tag and axis titles
function decor(p) {
    return {
        id: 'decor',
        afterDatasetsDraw: function(chart) {
            var ctx = chart.ctx, a = chart.chartArea;
            var xs = chart.scales.x, ys = chart.scales.y;
            ctx.save();

            // legend (opaque, on top of the curves)
            if (p.legend) {
                var L = p.legend;
                ctx.fillStyle = '#fff';
                ctx.fillRect(L.x0 - p.ox, L.y0 - p.oy, L.x1 - L.x0, L.y1 - L.y0);
                ctx.strokeStyle = '#000';
                ctx.lineWidth = 2;
                ctx.strokeRect(L.x0 - p.ox, L.y0 - p.oy, L.x1 - L.x0, L.y1 - L.y0);
                chart.data.datasets.forEach(function(ds, i) {
                    var ly = L.rows[i] - p.oy;
                    ctx.strokeStyle = ds.borderColor;
                    ctx.lineWidth = 4;
                    ctx.beginPath();
                    ctx.moveTo(L.lx0 - p.ox, ly);
                    ctx.lineTo(L.lx1 - p.ox, ly);
                    ctx.stroke();
                    var parts = ds.label.split('_');
                    ctx.fillStyle = '#000';
                    ctx.textAlign = 'left';
                    ctx.textBaseline = 'alphabetic';
                    ctx.font = '45px ' + serif;
                    var tx = L.tx - p.ox;
                    ctx.fillText(parts[0], tx, ly + 16);
                    if (parts[1]) {
                        var w = ctx.measureText(parts[0]).width;
                        ctx.font = '28px ' + serif;
                        ctx.fillText(parts[1], tx + w + 1, ly + 30);
                    }
                });
            }

            // inward ticks
            ctx.strokeStyle = '#000';
            ctx.lineWidth = 4;
            ctx.beginPath();
            xs.ticks.forEach(function(t) {
                var px = xs.getPixelForValue(t.value);
                ctx.moveTo(px, a.bottom); ctx.lineTo(px, a.bottom - p.xMaj);
            });
            p.xMinor.forEach(function(v) {
                var px = xs.getPixelForValue(v);
                ctx.moveTo(px, a.bottom); ctx.lineTo(px, a.bottom - p.xMin);
            });
            ys.ticks.forEach(function(t) {
                var py = ys.getPixelForValue(t.value);
                ctx.moveTo(a.left, py); ctx.lineTo(a.left + p.yMaj, py);
            });
            p.yMinor.forEach(function(v) {
                var py = ys.getPixelForValue(v);
                ctx.moveTo(a.left, py); ctx.lineTo(a.left + p.yMin, py);
            });
            ctx.stroke();

            // frame
            ctx.lineWidth = 4;
            ctx.strokeRect(a.left, a.top, a.right - a.left, a.bottom - a.top);

            // panel tag
            ctx.fillStyle = '#000';
            ctx.textAlign = 'left';
            ctx.textBaseline = 'alphabetic';
            ctx.font = 'bold 62px ' + serif;
            ctx.fillText(p.tag, p.tagX - p.ox, p.tagY - p.oy);

            // injection current note, e.g. I_EA = 1.616 I_th
            if (p.note) {
                var x = p.noteX - p.ox, y = p.noteY - p.oy;
                p.note.forEach(function(r) {
                    var sub = r[1].indexOf('s') >= 0;
                    var it = r[1].indexOf('i') >= 0;
                    ctx.font = (it ? 'italic ' : '') + (sub ? '27px ' : '43px ') + serif;
                    ctx.fillText(r[0], x, y + (sub ? 12 : 0));
                    x += ctx.measureText(r[0]).width + (sub ? 1 : 0);
                });
            }

            // axis titles
            ctx.font = 'bold 64px ' + serif;
            ctx.textAlign = 'center';
            ctx.fillText(p.xTitle, (a.left + a.right) / 2, p.xTitleY - p.oy);
            ctx.save();
            ctx.translate(p.yTitleX - p.ox, p.yTitleY - p.oy);
            ctx.rotate(-Math.PI / 2);
            ctx.fillText(p.yTitle, 0, 0);
            ctx.restore();

            ctx.restore();
        }
    };
}

function noPad(s) {
    s.paddingTop = 0; s.paddingBottom = 0; s.paddingLeft = 0; s.paddingRight = 0;
}

function makeChart(id, p, datasets, scales) {
    var canvas = document.getElementById(id);
    var W = canvas.width, H = canvas.height;
    return new Chart(canvas, {
        type: 'line',
        data: { datasets: datasets },
        options: {
            responsive: false,
            animation: false,
            devicePixelRatio: 1,
            events: [],
            layout: { padding: { top: p.plot[1] - p.oy, right: p.ox + W - p.plot[2], left: 0, bottom: 0 } },
            plugins: { legend: { display: false }, tooltip: { enabled: false } },
            scales: {
                x: {
                    type: 'linear',
                    min: scales.xMin, max: scales.xMax,
                    ticks: {
                        stepSize: scales.xStep, font: tickFont, color: '#000', padding: 14,
                        maxRotation: 0, autoSkip: false, includeBounds: false,
                        callback: scales.xFmt
                    },
                    grid: { display: false, drawTicks: false },
                    border: { display: false },
                    afterFit: function(s) { s.height = p.oy + H - p.plot[3]; noPad(s); }
                },
                y: {
                    type: 'linear',
                    min: scales.yMin, max: scales.yMax,
                    ticks: { stepSize: scales.yStep, font: tickFont, color: '#000', padding: 30,
                             autoSkip: false, includeBounds: false },
                    grid: { display: false, drawTicks: false },
                    border: { display: false },
                    afterFit: function(s) { s.width = p.plot[0] - p.ox; noPad(s); }
                }
            }
        },
        plugins: [decor(p)]
    });
}

var topScales = { xMin: 10, xMax: 40, xStep: 10, yMin: -2.1, yMax: 27, yStep: 5,
                  xFmt: function(v) { return String(v); } };
var eyeScales = { xMin: 0, xMax: 2, xStep: 0.5, yMin: -15, yMax: 22, yStep: 10,
                  xFmt: function(v) { return v.toFixed(1); } };

function topSets(sl, eve, msg, eveName) {
    return [
        line('SL1', sl, sampleStart, sampleStep, colSl1, 5, 0),
        line('Eve_' + eveName, eve, sampleStart, sampleStep, colEve, 5, 0),
        line('Decoded message', msg, sampleStart, msgStep, colMsg, 4, 0)
    ];
}

function eyeSets(traces) {
    return traces.map(function(tr, i) {
        return line('trace ' + (i + 1), tr, 0, eyeStep, colEye, 3.5, 0.3);
    });
}

makeChart('a1', {
    ox: 0, oy: 0, plot: [224, 25, 1235, 786],
    xMaj: 26, xMin: 15, yMaj: 28, yMin: 14, xMinor: topXMinor, yMinor: topYMinor,
    tag: '(a1)', tagX: 255, tagY: 110,
    note: [['I', 'i'], ['EA', 's'], ['=1.616', ''], ['I', 'i'], ['th', 's']], noteX: 404, noteY: 110,
    legend: { x0: 723, y0: 37, x1: 1221, y1: 223, lx0: 765, lx1: 869, tx: 879, rows: [71, 127, 195] },
    xTitle: 'Time (ns)', xTitleY: 922, yTitle: 'Power (mW)', yTitleX: 96, yTitleY: 428
}, topSets(a1Sl1, a1Eve, a1Msg, 'A'), topScales);

makeChart('b1', {
    ox: 1255, oy: 0, plot: [1433, 25, 2444, 786],
    xMaj: 26, xMin: 15, yMaj: 28, yMin: 14, xMinor: topXMinor, yMinor: topYMinor,
    tag: '(b1)', tagX: 1508, tagY: 110,
    note: [['I', 'i'], ['EB', 's'], ['=1.8', ''], ['I', 'i'], ['th', 's']], noteX: 1659, noteY: 110,
    legend: { x0: 1935, y0: 37, x1: 2431, y1: 223, lx0: 1978, lx1: 2081, tx: 2091, rows: [71, 127, 195] },
    xTitle: 'Time (ns)', xTitleY: 922, yTitle: 'Power (mW)', yTitleX: 1302, yTitleY: 428
}, topSets(b1Sl1, b1Eve, b1Msg, 'B'), topScales);

makeChart('a2', {
    ox: 0, oy: 940, plot: [224, 958, 1235, 1717],
    xMaj: 30, xMin: 16, yMaj: 29, yMin: 0, xMinor: eyeXMinor, yMinor: [],
    tag: '(a2)', tagX: 269, tagY: 1038,
    xTitle: 'Time (ns)', xTitleY: 1856, yTitle: 'Arbitrary Unit', yTitleX: 73, yTitleY: 1358
}, eyeSets(a2Traces), eyeScales);

makeChart('b2', {
    ox: 1255, oy: 940, plot: [1433, 958, 2444, 1717],
    xMaj: 30, xMin: 16, yMaj: 29, yMin: 0, xMinor: eyeXMinor, yMinor: [],
    tag: '(b2)', tagX: 1528, tagY: 1037,
    xTitle: 'Time (ns)', xTitleY: 1856, yTitle: 'Arbitrary Unit', yTitleX: 1293, yTitleY: 1355
}, eyeSets(b2Traces), eyeScales);
</script>
</body>
</html>
